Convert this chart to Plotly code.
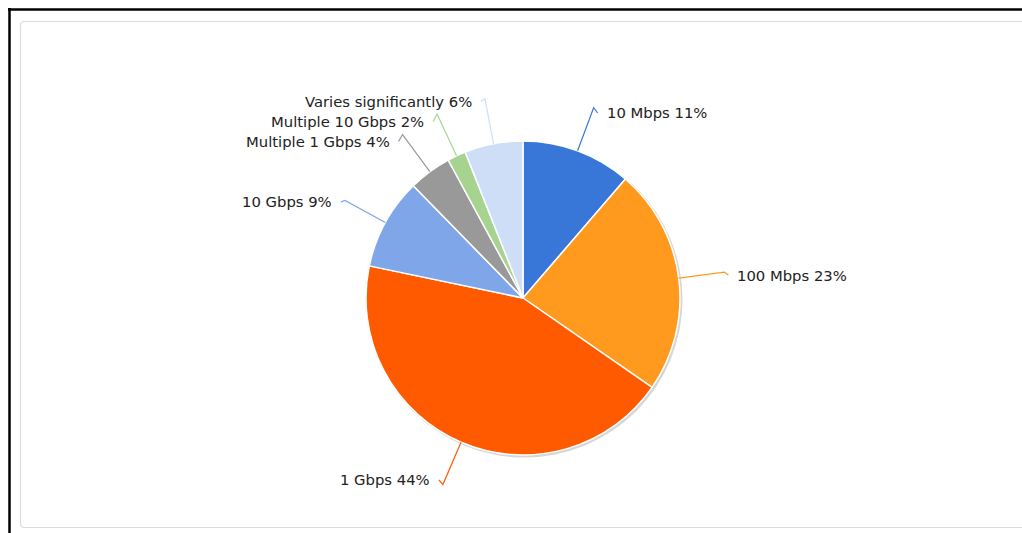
import math
import plotly.graph_objects as go

# ---- data ----
categories = ["10 Mbps", "100 Mbps", "1 Gbps", "10 Gbps",
              "Multiple 1 Gbps", "Multiple 10 Gbps", "Varies significantly"]
values = [11.3, 23.3, 43.6, 9.4, 4.4, 1.9, 6.0]
colors = ["#3876d8", "#ff9a1f", "#ff5a00", "#7ea6e8",
          "#999999", "#a6d38f", "#cfdef7"]

W, H = 1022, 533
CX, CY, R = 523, 298, 157   # page pixel coordinates


def px(x):
    return x / W


def py(y):
    return 1 - y / H


fig = go.Figure()
fig.add_trace(go.Pie(
    labels=categories, values=values, sort=False, direction="clockwise",
    rotation=0, textinfo="none", showlegend=False,
    marker=dict(colors=colors, line=dict(color="white", width=1.5)),
    domain=dict(x=[px(CX - R), px(CX + R)], y=[py(CY + R), py(CY - R)]),
    hoverinfo="label+percent",
))

shapes = []
annotations = []

# outer black frame (top and left)
shapes.append(dict(type="line", xref="paper", yref="paper",
                   x0=px(8), x1=px(1030), y0=py(9.5), y1=py(9.5),
                   line=dict(color="black", width=2.5)))
shapes.append(dict(type="line", xref="paper", yref="paper",
                   x0=px(9.5), x1=px(9.5), y0=py(8), y1=py(540),
                   line=dict(color="black", width=2.5)))

# light rounded panel
x0, y0, x1, y1, rr = 20.5, 21.5, 1040, 527.5, 4
path = (f"M {px(x1)},{py(y0)} L {px(x0 + rr)},{py(y0)} "
        f"Q {px(x0)},{py(y0)} {px(x0)},{py(y0 + rr)} "
        f"L {px(x0)},{py(y1 - rr)} Q {px(x0)},{py(y1)} {px(x0 + rr)},{py(y1)} "
        f"L {px(x1)},{py(y1)}")
shapes.append(dict(type="path", xref="paper", yref="paper", path=path,
                   line=dict(color="#dcdcdc", width=1.2)))

# pie shadow
shapes.append(dict(type="circle", xref="paper", yref="paper", layer="below",
                   x0=px(CX - R + 0.5), x1=px(CX + R + 2.5),
                   y0=py(CY + R + 2.5), y1=py(CY - R + 0.5),
                   line=dict(width=0), fillcolor="rgba(0,0,0,0.16)"))

# connectors and labels
total = sum(values)
cum = 0.0
items = []
for cat, v, col in zip(categories, values, colors):
    mid = (cum + v / 2) / total * 2 * math.pi
    cum += v
    sx, sy = CX + R * math.sin(mid), CY - R * math.cos(mid)
    ex, ey = CX + (R + 46) * math.sin(mid), CY - (R + 46) * math.cos(mid)
    side = 1 if math.sin(mid) >= 0 else -1
    c = math.cos(mid)
    off = 3 * c + (2.5 if side > 0 else 0) if c >= 0 else 5 * c
    items.append(dict(text=f"{cat} {round(v / total * 100)}%", col=col,
                      sx=sx, sy=sy, ex=ex, ey=ey, side=side, ly=ey + off))

for side in (1, -1):
    grp = sorted([it for it in items if it["side"] == side], key=lambda d: d["ly"])
    for i in range(1, len(grp)):
        if grp[i]["ly"] < grp[i - 1]["ly"] + 20:
            grp[i]["ly"] = grp[i - 1]["ly"] + 20

for it in items:
    s = it["side"]
    hx = it["ex"] + s * 4
    p = (f"M {px(it['sx'])},{py(it['sy'])} L {px(it['ex'])},{py(it['ey'])} "
         f"L {px(hx)},{py(it['ly'])}")
    shapes.append(dict(type="path", xref="paper", yref="paper", path=p,
                       line=dict(color=it["col"], width=1.2)))
    annotations.append(dict(
        xref="paper", yref="paper", x=px(it["ex"] + s * 11), y=py(it["ly"]),
        text=it["text"], showarrow=False,
        xanchor="left" if s > 0 else "right", yanchor="middle",
        font=dict(family="DejaVu Sans", size=14.8, color="#222222")))

fig.update_layout(
    width=W, height=H, margin=dict(l=0, r=0, t=0, b=0),
    paper_bgcolor="white", plot_bgcolor="white",
    shapes=shapes, annotations=annotations,
)

fig.write_html(
    "out.html",
    config={"displayModeBar": False},
    post_script="document.body.style.margin='0';"
                "document.documentElement.style.overflow='hidden';"
                "document.body.style.overflow='hidden';",
)
